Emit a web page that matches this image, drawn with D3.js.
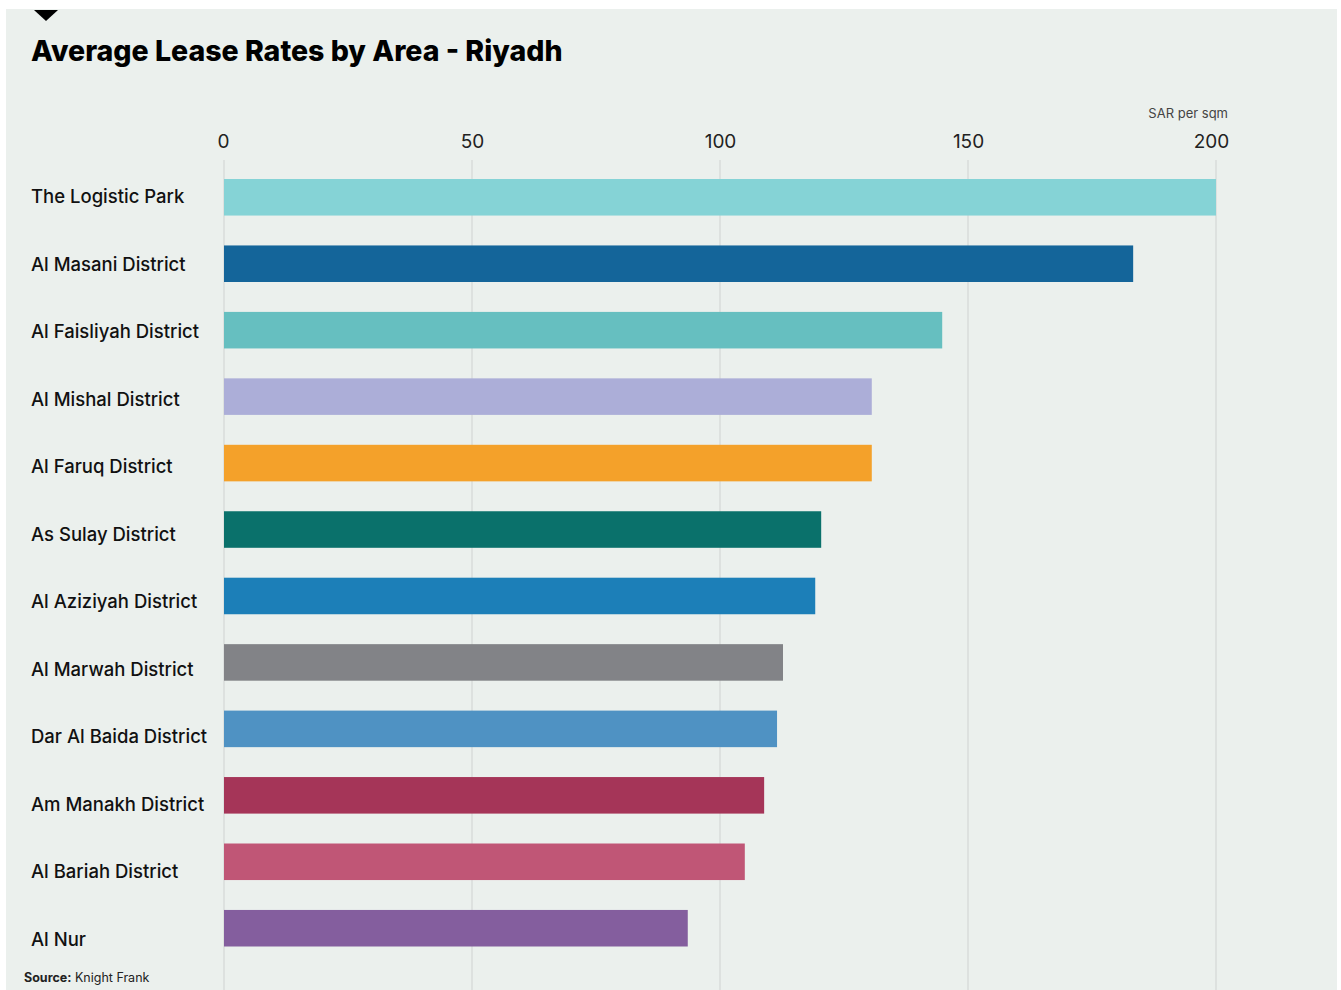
<!DOCTYPE html>
<html><head><meta charset="utf-8">
<script src="https://cdn.jsdelivr.net/npm/d3@7"></script>
<style>
html,body{margin:0;padding:0;background:#fff;}
svg{display:block;font-family:Inter,"Noto Sans",sans-serif;}
</style></head>
<body>
<svg id="chart" width="1341" height="990"></svg>
<script>
const categories = ["The Logistic Park","Al Masani District","Al Faisliyah District","Al Mishal District","Al Faruq District","As Sulay District","Al Aziziyah District","Al Marwah District","Dar Al Baida District","Am Manakh District","Al Bariah District","Al Nur"];
const values = [200, 183.3, 144.8, 130.6, 130.6, 120.4, 119.2, 112.7, 111.5, 108.9, 105.0, 93.5];
const colors = ["#85d3d6","#14659a","#66bfc0","#acaed8","#f4a12a","#0a716b","#1c7fb8","#828387","#4f92c3","#a53558","#c05676","#845e9e"];
const tickValues = [0, 50, 100, 150, 200];
const title = "Average Lease Rates by Area - Riyadh";
const unitLabel = "SAR per sqm";

const svg = d3.select("#chart");
svg.append("rect").attr("x",6).attr("y",9).attr("width",1331).attr("height",981).attr("fill","#ebf0ed");
svg.append("path").attr("d","M34,10 L58,10 L46,21 Z").attr("fill","#000");

svg.append("text").attr("x",31).attr("y",61).attr("font-size",28.5).attr("font-weight",800)
  .attr("fill","#000").text(title);

const x = d3.scaleLinear().domain([0,200]).range([224,1216]);
const y = d3.scaleBand().domain(categories).range([179,946.5]).paddingInner(0.45).paddingOuter(0);
const yLab = d3.scalePoint().domain(categories).range([203,946]);

// grid
svg.append("g").selectAll("line").data(tickValues).join("line")
  .attr("x1",d=>x(d)).attr("x2",d=>x(d)).attr("y1",160).attr("y2",990)
  .attr("stroke","#d9dcda").attr("stroke-width",1.5);

// axis tick labels
const axis = d3.axisTop(x).tickValues(tickValues).tickSize(0).tickPadding(0);
const ag = svg.append("g").attr("transform","translate(0,148)").call(axis);
ag.select(".domain").remove();
ag.selectAll("text").attr("font-size",19).attr("fill","#222").attr("font-family","Inter,sans-serif")
  .attr("dx",(d,i)=> i===tickValues.length-1 ? -5 : (i===0 ? -1 : 0));

svg.append("text").attr("x",1228).attr("y",118).attr("text-anchor","end")
  .attr("font-size",13).attr("fill","#444").text(unitLabel);

// bars
svg.append("g").selectAll("rect").data(categories).join("rect")
  .attr("x",x(0)).attr("y",d=>y(d)).attr("height",y.bandwidth())
  .attr("width",(d,i)=>x(values[i])-x(0)).attr("fill",(d,i)=>colors[i]);

// labels
svg.append("g").selectAll("text").data(categories).join("text")
  .attr("x",31).attr("y",d=>yLab(d)).attr("font-size",18.5).attr("font-weight",500)
  .attr("fill","#111").text(d=>d);

const src = svg.append("text").attr("x",24).attr("y",982).attr("font-size",12.5).attr("fill","#222");
src.append("tspan").attr("font-weight",700).text("Source:");
src.append("tspan").text(" Knight Frank");
</script>
</body></html>
